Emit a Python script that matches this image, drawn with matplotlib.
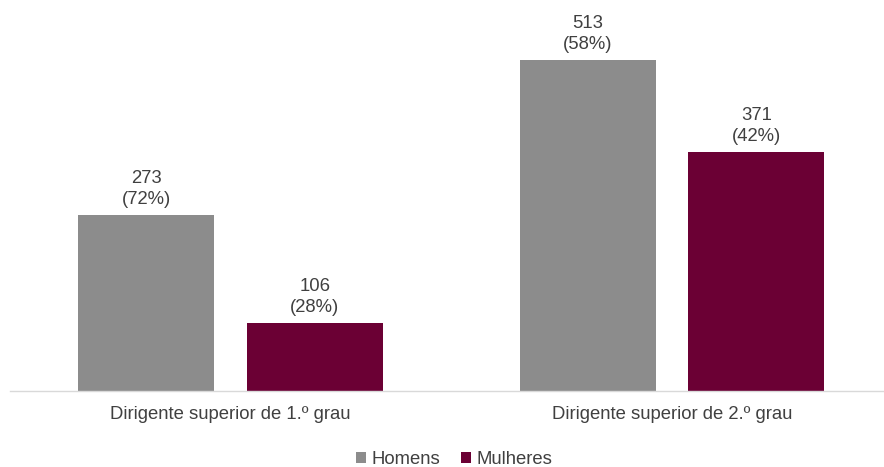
import matplotlib
matplotlib.use("Agg")
import matplotlib.pyplot as plt
import numpy as np

categories = ["Dirigente superior de 1.º grau", "Dirigente superior de 2.º grau"]
series = ["Homens", "Mulheres"]
homens = [273, 513]
mulheres = [106, 371]
homens_pct = [72, 58]
mulheres_pct = [28, 42]
colors = ["#8c8c8c", "#6b0034"]

plt.rcParams['font.family'] = ['Liberation Sans', 'DejaVu Sans']
fig = plt.figure(figsize=(8.84, 4.67), dpi=100)
ax = fig.add_axes([10/884, 1-391/467, 874/884, 361/467])

x = np.arange(len(categories))
w = 0.308
off = 0.191
txtc = "#404040"
fs = 13.3
for vals, pcts, dx, c, name in [(homens, homens_pct, -off, colors[0], series[0]),
                                 (mulheres, mulheres_pct, off, colors[1], series[1])]:
    ax.bar(x + dx, vals, width=w, color=c, label=name)
    for xi, v, p in zip(x + dx, vals, pcts):
        ax.annotate(f"{v}\n({p}%)", (xi, v), xytext=(0, 5), textcoords="offset points",
                    ha="center", va="bottom", fontsize=fs, color=txtc, linespacing=1.3)

ax.set_xlim(-0.4994, 1.48)
ax.set_ylim(0, 560)
for s in ["top", "right", "left"]:
    ax.spines[s].set_visible(False)
ax.spines["bottom"].set_color("#d9d9d9")
ax.spines["bottom"].set_linewidth(1)
ax.set_yticks([])
ax.set_xticks(x)
ax.set_xticklabels(categories, fontsize=fs, color=txtc)
ax.tick_params(axis="x", length=0, pad=11)

fig.legend(loc="lower center", bbox_to_anchor=(0.514, -0.038), ncol=2, frameon=False,
           fontsize=fs, handlelength=0.55, handleheight=0.55, handletextpad=0.3,
           columnspacing=1.1, labelcolor=txtc)

fig.savefig("out.png", dpi=100)
